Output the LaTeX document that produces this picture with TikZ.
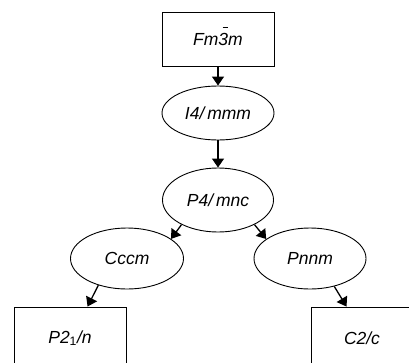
\documentclass[tikz,border=0pt]{standalone}
\usepackage{fontspec}
\setmainfont{Liberation Sans}
\usetikzlibrary{shapes.geometric,arrows.meta,calc}
\newcommand\barthree{\ooalign{3\cr\hidewidth\hspace{0.25em}\raisebox{0.97em}{\rule{0.32em}{0.08em}}\hidewidth\cr}}
\tikzset{
  lbl/.style={font=\fontsize{17.5}{20}\selectfont\itshape, inner sep=0pt},
  boxnode/.style={lbl, draw, line width=0.9pt, rectangle, minimum width=112pt, minimum height=54pt},
  ellnode/.style={lbl, draw, line width=0.9pt, ellipse, minimum width=112pt, minimum height=54pt},
  conn/.style={line width=1.3pt, -{Triangle[width=12pt,length=9pt]}}
}
\begin{document}
\begin{tikzpicture}[x=1pt,y=-1pt]
\useasboundingbox (0,0) rectangle (409,362);
\clip (0,0) rectangle (409,362);
\node[boxnode] (fm3m) at (218,39) {Fm\barthree m};
\node[ellnode] (i4) at (218,113) {I4/\,mmm};
\node[ellnode, minimum height=64pt, minimum width=111pt] (p4) at (218,200) {P4/\,mnc};
\node[ellnode, minimum height=61pt, minimum width=113pt] (cccm) at (127,258.5) {Cccm};
\node[ellnode, minimum height=61pt, minimum width=112pt] (pnnm) at (310,258.5) {Pnnm};
\node[boxnode, minimum height=62pt] (p21) at (70,338) {P2\textsubscript{\upshape 1}/n};
\node[boxnode, minimum height=62pt, minimum width=102pt] (c2c) at (362,338) {C2/c};
\draw[conn] (fm3m.south) -- (i4.north);
\draw[conn] (i4.south) -- (p4.north);
\draw[conn] (p4.214) -- (cccm.24);
\draw[conn] (p4.326) -- (pnnm.156);
\draw[conn] (cccm.223) -- ($(p21.north west)+(74,0)$);
\draw[conn] (pnnm.311) -- ($(c2c.north west)+(36,0)$);
\end{tikzpicture}
\end{document}
